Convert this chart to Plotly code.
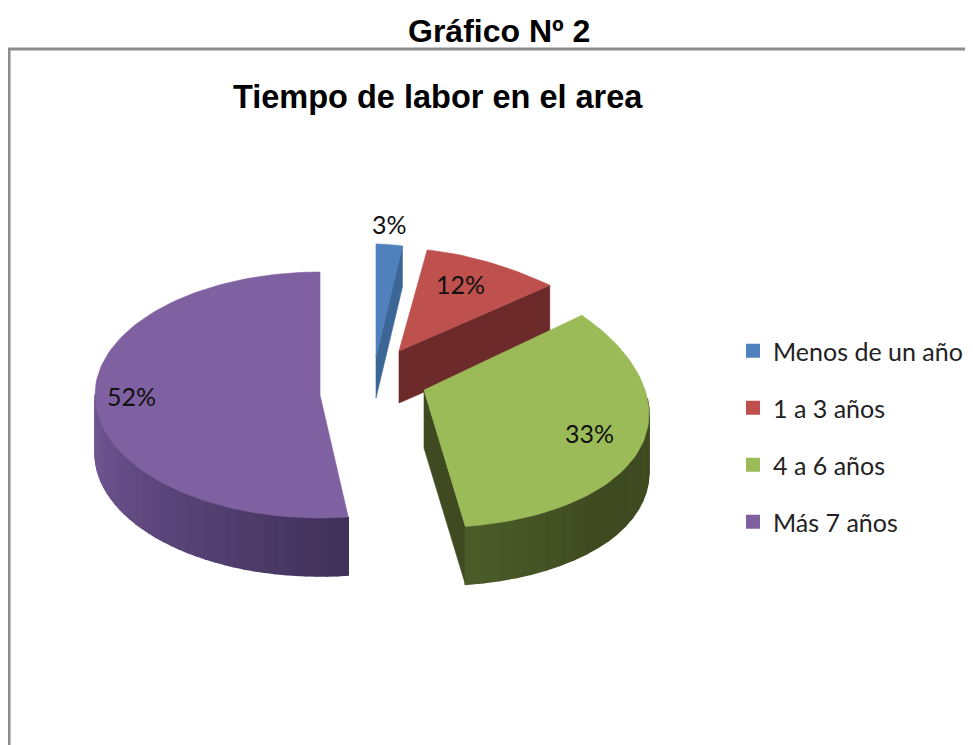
import math
import plotly.graph_objects as go

categories = ["Menos de un año", "1 a 3 años", "4 a 6 años", "Más 7 años"]
values = [3, 12, 33, 52]
chart_title = "Tiempo de labor en el area"
page_title = "Gráfico Nº 2"

TOP = ["#4F81BD", "#BE504E", "#9BBB59", "#7F60A0"]
CUT = ["#3C6695", "#6C2A2A", "#3F4A20", "#40315A"]
# the page has an 8px body margin, so the figure is sized and ranged to sit at the window's origin
OFF = 8
W, H = 973 - OFF, 745 - OFF
# per-slice projection: apex x/y, radii, perspective, vertical perspective, shear, depth
GEO = [
    dict(cx=376, cy=357, rx=200, ry=113, p=.30, q=0, sh=0, d=41),
    dict(cx=399, cy=351, rx=240, ry=125, p=.38, q=.18, sh=0, d=52),
    dict(cx=424, cy=390, rx=221, ry=131, p=.15, q=.05, sh=.07, d=58),
    dict(cx=320, cy=395, rx=225, ry=123, p=0, q=0, sh=0, d=58),
]
LABEL_POS = [(389, 224), (460, 284), (589, 433), (131, 396)]


def rim(g, frac):
    t = 2 * math.pi * frac
    s, c = math.sin(t), math.cos(t)
    dy = -g["ry"] * c * (1 - g["q"] * c)
    return g["cx"] + g["rx"] * s * (1 - g["p"] * c) + g["sh"] * dy, g["cy"] + dy


def mix(a, b, f):
    ca = [int(a[i:i + 2], 16) for i in (1, 3, 5)]
    cb = [int(b[i:i + 2], 16) for i in (1, 3, 5)]
    return "rgb(%d,%d,%d)" % tuple(round(x + (y - x) * f) for x, y in zip(ca, cb))


fig = go.Figure()


def poly(pts, color, lw=0.6):
    xs = [p[0] for p in pts] + [pts[0][0]]
    ys = [p[1] for p in pts] + [pts[0][1]]
    fig.add_trace(go.Scatter(x=xs, y=ys, mode="lines", fill="toself", fillcolor=color,
                             line=dict(color=color, width=lw), showlegend=False,
                             hoverinfo="skip"))


total = sum(values)
start = 0.0
for i, v in enumerate(values):
    g = GEO[i]
    a0 = start / total
    a1 = (start + v) / total
    start += v
    n = max(8, int(v * 2))
    arc = [rim(g, a0 + (a1 - a0) * k / n) for k in range(n + 1)]
    apex = (g["cx"], g["cy"])
    d = g["d"]
    if i in (0, 1, 2):
        # cut face along the right-hand edge of the slice
        e = arc[-1]
        poly([apex, e, (e[0], e[1] + d), (apex[0], apex[1] + d)], CUT[i])
    if i == 2:
        m = 30
        for k in range(m):
            f0 = a0 + (a1 - a0) * k / m
            f1 = a0 + (a1 - a0) * (k + 1) / m
            if f0 < .25:
                continue
            p0, p1 = rim(g, f0), rim(g, f1)
            col = mix("#3F4A20", "#4C5E2A", max(0, (f0 - .38) / (a1 - .38)))
            poly([p0, p1, (p1[0], p1[1] + d), (p0[0], p0[1] + d)], col, 1.6)
    if i == 3:
        m = 36
        for k in range(m):
            f0 = a0 + (.75 - a0) * k / m
            f1 = a0 + (.75 - a0) * (k + 1) / m
            p0, p1 = rim(g, f0), rim(g, f1)
            col = mix("#40315A", "#6E5490", min(1, (f0 - a0) / (.75 - a0) * 1.15))
            poly([p0, p1, (p1[0], p1[1] + d), (p0[0], p0[1] + d)], col, 1.6)
    poly([apex] + arc, TOP[i])

# legend entries
for i, name in enumerate(categories):
    fig.add_trace(go.Scatter(x=[-50], y=[-50], mode="markers", name=name, legendgroup=name,
                             marker=dict(symbol="square", size=14, color=TOP[i]),
                             hoverinfo="skip"))

annotations = [
    dict(x=498.5, y=31, text="<b>%s</b>" % page_title, font=dict(family="Liberation Sans", size=32, color="black")),
    dict(x=438, y=97, text="<b>%s</b>" % chart_title,
         font=dict(family="Liberation Sans", size=32.5, color="black")),
]
for (x, y), v in zip(LABEL_POS, values):
    annotations.append(dict(x=x, y=y, text="%d%%" % v, font=dict(family="Lato", size=25, color="#111111")))
for a in annotations:
    a.update(xref="x", yref="y", showarrow=False, xanchor="center", yanchor="middle")

fig.update_layout(
    width=W, height=H, margin=dict(l=0, r=0, t=0, b=0, pad=0),
    paper_bgcolor="white", plot_bgcolor="white",
    xaxis=dict(range=[OFF, 973], visible=False, fixedrange=True),
    yaxis=dict(range=[745, OFF], visible=False, fixedrange=True),
    annotations=annotations,
    legend=dict(x=(733 - OFF) / W, y=1 - (328 - OFF) / H, xanchor="left", yanchor="top", bgcolor="rgba(0,0,0,0)",
                font=dict(family="Lato", size=25, color="#222222"), tracegroupgap=21.5,
                traceorder="grouped"),
    shapes=[
        dict(type="line", xref="x", yref="y", x0=9, y0=745, x1=9, y1=49, line=dict(color="#8C8C8C", width=3)),
        dict(type="line", xref="x", yref="y", x0=8, y0=49, x1=973, y1=49, line=dict(color="#8C8C8C", width=3)),
    ],
)
fig.write_html("out.html")
